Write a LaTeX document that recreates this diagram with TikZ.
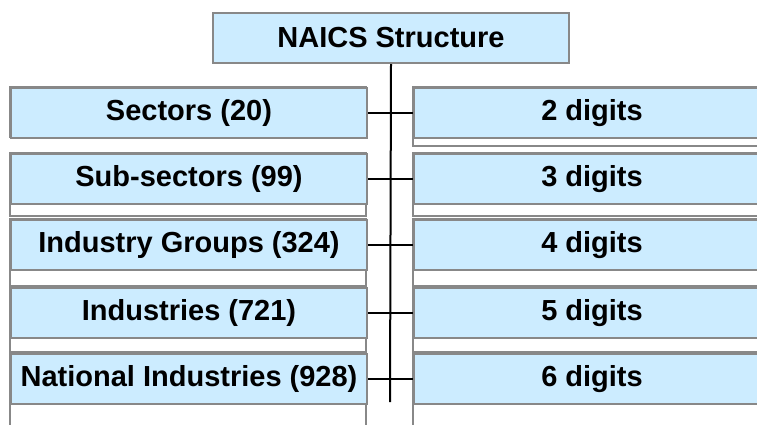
\documentclass[tikz,border=0pt]{standalone}
\usepackage{fontspec}
\setmainfont{Liberation Sans}
\definecolor{levelblue}{RGB}{204,236,255}
\definecolor{levelgrey}{RGB}{136,136,136}
\tikzset{
  levelbox/.style={draw=levelgrey, line width=2pt, fill=levelblue,
    minimum width=356pt, minimum height=50pt, inner sep=0pt,
    anchor=north west, font=\bfseries\fontsize{29}{34}\selectfont},
  backbox/.style={draw=levelgrey, line width=2pt, fill=white},
  link/.style={line width=2pt}
}

\begin{document}
\begin{tikzpicture}[x=1pt,y=-1pt]
    \clip (0,0) rectangle (757,424);
    \fill[white] (0,0) rectangle (757,424);
    \node[levelbox] (top) at (212,12) {NAICS Structure};
    % one row per level: top, height of the strip behind (left/right), texts
    \foreach \i/\y/\lh/\rh/\lab/\dig in {1/87/50/59/Sectors (20)/2,
        2/153/63/63/Sub-sectors (99)/3,
        3/219/67/67/Industry Groups (324)/4,
        4/287/65/65/Industries (721)/5,
        5/353/80/80/National Industries (928)/6}{
      \draw[backbox] (10,\y) rectangle ++(356,\lh);
      \draw[backbox] (413,\y) rectangle ++(356,\rh);
      \node[levelbox] (level\i) at (10,\y) {\lab};
      \node[levelbox] (digits\i) at (413,\y) {\dig\ digits};
      \draw[link] (level\i.east) -- (digits\i.west);
    }
    \coordinate (trunk) at (390,402);
    \draw[link] (top.south) -- (trunk);
\end{tikzpicture}
\end{document}
